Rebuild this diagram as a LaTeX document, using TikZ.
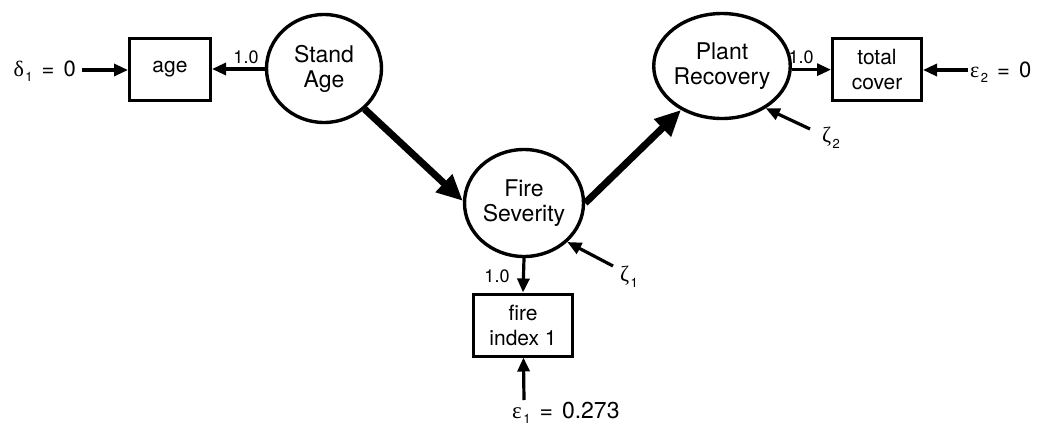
\documentclass[tikz,border=0pt]{standalone}
\usepackage{fontspec}
\setmainfont{TeX Gyre Heros}
\newfontfamily\grk{Liberation Serif}
\usetikzlibrary{arrows.meta,shapes.geometric}
\newcommand{\gsub}[2]{{\grk #1}\hspace{1.5pt}\raisebox{-0.25em}{\fontsize{13}{13}\selectfont #2}}
\newcommand{\eqsp}{\hspace{9pt}}
\begin{document}
\begin{tikzpicture}[x=1pt,y=-1pt,
  lat/.style={draw, ellipse, line width=3.4pt, inner sep=0pt, align=center,
              font=\fontsize{23}{25}\selectfont},
  obs/.style={draw, rectangle, line width=3pt, inner sep=0pt, align=center,
              font=\fontsize{21}{25}\selectfont},
  thinarr/.style={line width=3.2pt, -{Triangle[length=14pt,width=12pt]}},
  thickarr/.style={line width=7pt, -{Triangle[length=26pt,width=23pt]}},
  lbl/.style={font=\fontsize{18}{18}\selectfont, inner sep=0pt},
  eq/.style={font=\fontsize{22}{22}\selectfont, inner sep=0pt}]
\useasboundingbox (0,0) rectangle (1038,426);
% latent variables
\node[lat, minimum width=115pt, minimum height=108pt] (sa) at (324,68.5) {Stand\\Age};
\node[lat, minimum width=116pt, minimum height=105pt] (pr) at (722,66) {Plant\\Recovery};
\node[lat, minimum width=119pt, minimum height=107pt] (fs) at (524,203) {Fire\\Severity};
% observed
\node[obs, minimum width=81pt, minimum height=62pt] (age) at (170,69) {age};
\node[obs, minimum width=89pt, minimum height=62pt] (tc) at (877,69) {total\\cover};
\node[obs, minimum width=99pt, minimum height=62pt] (fi) at (523,325) {fire\\index 1};
% error labels
\node[eq, anchor=base east] (d1) at (76,76) {\gsub{δ}{1}\eqsp=\eqsp0};
\node[eq, anchor=base west] (e2) at (970,77) {\gsub{ε}{2}\eqsp=\eqsp0};
\node[eq, anchor=base west, font=\fontsize{23}{23}\selectfont] (e1) at (512,418) {\gsub{ε}{1}\eqsp=\eqsp0.273};
\node[eq] (z1) at (629,277) {\gsub{ζ}{1}};
\node[eq] (z2) at (831,138) {\gsub{ζ}{2}};
% path labels
\node[lbl] (l1) at (246,57) {1.0};
\node[lbl] (l2) at (801,57) {1.0};
\node[lbl] (l3) at (497,276) {1.0};
% free ends
\coordinate (d1a) at (82,70);
\coordinate (e2a) at (968,70);
\coordinate (e1a) at (524,400);
\coordinate (z1a) at (613,266);
\coordinate (z2a) at (810,129);
% connectors
\draw[thinarr] (d1a) -- (d1a -| age.west);
\draw[thinarr] (e2a) -- (e2a -| tc.east);
\draw[thinarr] (e1a) -- (fi);
\draw[thinarr] (sa.west |- age) -- (age);
\draw[thinarr] (pr.-3) -- (pr.-3 -| tc.west);
\draw[thinarr] (fs.south) -- (fi.north);
\draw[thinarr] (z1a) -- (fs.-42);
\draw[thinarr] (z2a) -- (pr.-44);
\draw[thickarr] (sa.-45) -- (fs.178);
\draw[thickarr] (fs.0) -- (pr.-133);
\end{tikzpicture}
\end{document}
